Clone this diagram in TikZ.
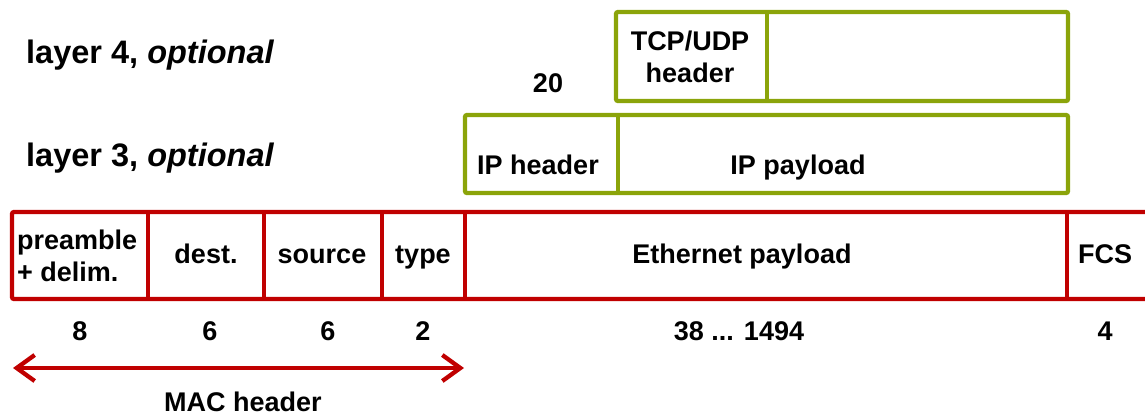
\documentclass[tikz,border=0pt]{standalone}
\usepackage{fontspec}
\setmainfont{Liberation Sans}
\usetikzlibrary{arrows.meta}
\definecolor{framered}{RGB}{192,0,0}
\definecolor{layergreen}{RGB}{139,164,10}

\begin{document}
\begin{tikzpicture}[x=1pt,y=-1pt,
  every node/.style={font=\fontsize{27}{32}\selectfont\bfseries, inner sep=0pt},
  layerlabel/.style={font=\fontsize{32.5}{38}\selectfont\bfseries, anchor=base west},
  ethbox/.style={draw=framered, line width=4.3pt, rounded corners=2pt},
  iplayer/.style={draw=layergreen, line width=4.3pt, rounded corners=2pt}]
\useasboundingbox (0,0) rectangle (1145,416);

% layer labels
\node[layerlabel] (lfour) at (26,63) {layer 4, \textit{optional}};
\node[layerlabel] (lthree) at (26,166) {layer 3, \textit{optional}};

% layer 4
\draw [iplayer] (616,12) rectangle (1068,101);
\draw [layergreen, line width=4.3pt] (767,12) -- (767,101);
\node[align=center] (tcphdr) at (690,57) {TCP/UDP\\header};
\node[anchor=base] (tcplen) at (548,92) {20};

% layer 3
\draw [iplayer] (465,115) rectangle (1068,193);
\draw [layergreen, line width=4.3pt] (618,115) -- (618,193);
\node[anchor=base] (iphdr) at (538,174) {IP header};
\node[anchor=base] (ippay) at (798,174) {IP payload};

% ethernet frame
\draw [ethbox] (12,212) rectangle (1152,299);
\foreach \x in {148,264,382,465,1067}
  \draw [framered, line width=4.3pt] (\x,212) -- (\x,299);
\node[align=left, anchor=west] (pre) at (17,256) {preamble\\+ delim.};
\node[anchor=base] (dst) at (206,263) {dest.};
\node[anchor=base] (src) at (322,263) {source};
\node[anchor=base] (typ) at (423,263) {type};
\node[anchor=base] (pay) at (742,263) {Ethernet payload};
\node[anchor=base] (fcs) at (1105,263) {FCS};

% lengths
\node[anchor=base] (npre) at (80,340) {8};
\node[anchor=base] (ndst) at (210,340) {6};
\node[anchor=base] (nsrc) at (328,340) {6};
\node[anchor=base] (ntyp) at (423,340) {2};
\node[anchor=base] (npay) at (739,340) {38 ... 1494};
\node[anchor=base] (nfcs) at (1105,340) {4};

% MAC header span
\coordinate (macl) at (13,368);
\coordinate (macr) at (464,368);
\draw [framered, line width=4.3pt, {Straight Barb[length=18pt,width=26pt]}-{Straight Barb[length=18pt,width=26pt]}] (macl) -- (macr);
\node[anchor=base] (mac) at (243,411) {MAC header};
\end{tikzpicture}
\end{document}
